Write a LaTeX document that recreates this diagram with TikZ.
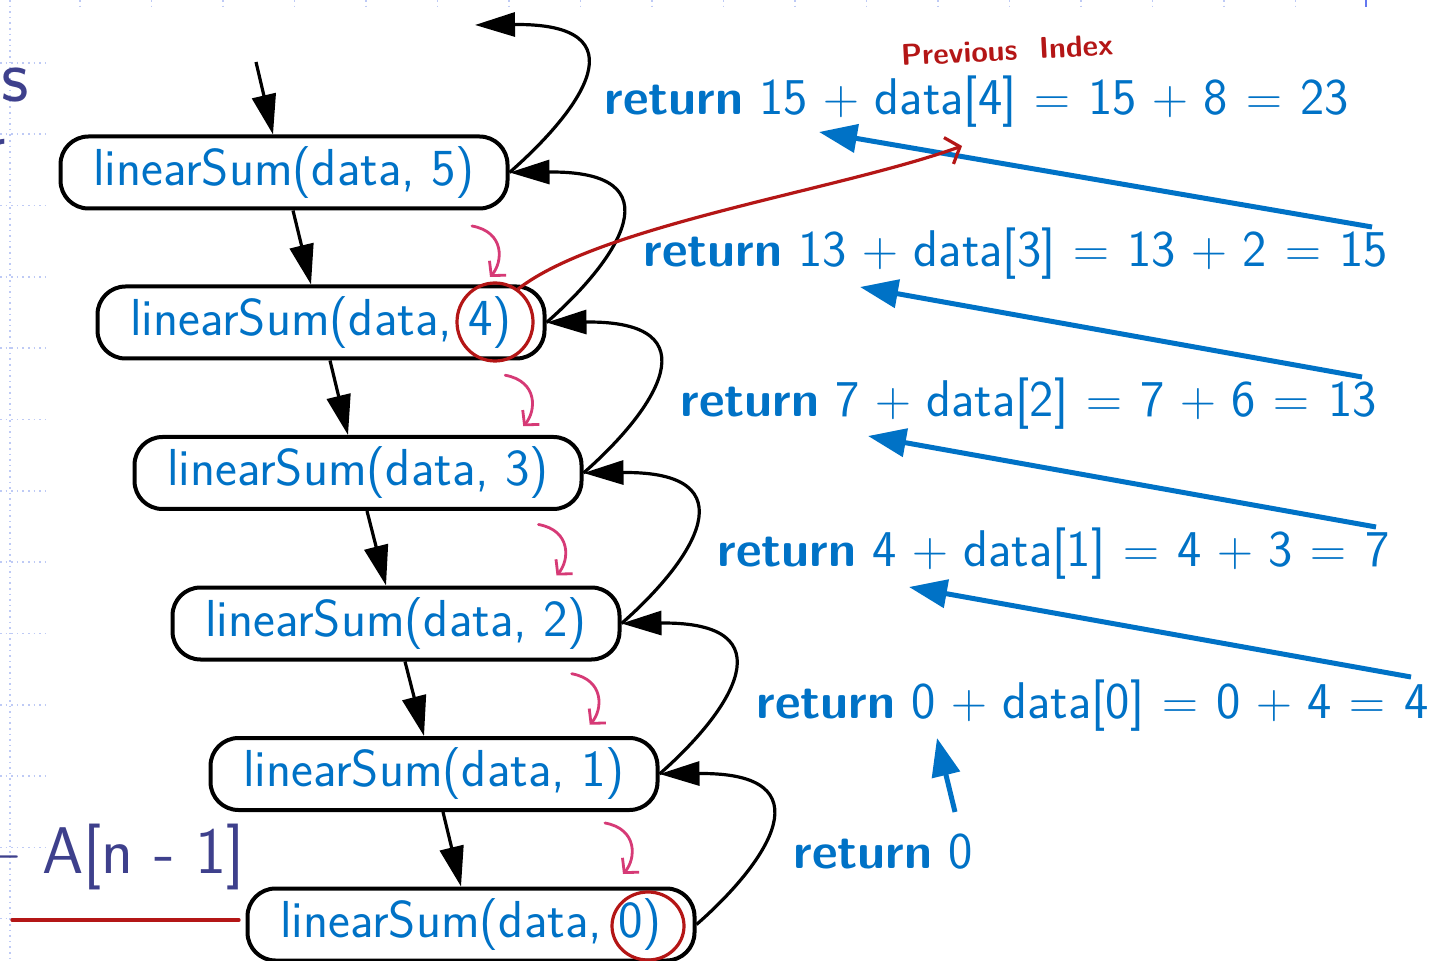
\documentclass[tikz,border=0pt]{standalone}
\usetikzlibrary{arrows.meta,calc,shapes.geometric}
\definecolor{myblue}{RGB}{0,114,198}
\definecolor{myred}{RGB}{180,22,22}
\definecolor{mypink}{RGB}{214,58,118}
\definecolor{slidetext}{RGB}{62,64,140}
\definecolor{gridblue}{RGB}{190,202,245}
\definecolor{tickblue}{RGB}{100,120,240}
\newcommand{\rbold}[1]{{\fontsize{25}{30}\selectfont\bfseries #1}}
\newcommand{\retline}[1]{$\medmuskip=5.6mu\relax\thickmuskip=6.6mu\relax #1$}
\begin{document}
\begin{tikzpicture}[x={(0.5pt,0)},y={(0,-0.5pt)},
  callbox/.style={draw=black,line width=2pt,rounded corners=14pt,minimum width=223.5pt,minimum height=36pt,inner sep=0pt,text=myblue,font=\fontsize{26}{30}\selectfont\sffamily},
  rettext/.style={text=myblue,font=\fontsize{25.8}{30}\selectfont\sffamily,anchor=base west,inner sep=0pt},
  callarr/.style={line width=1.6pt,-{Triangle[length=20pt,width=12pt]}},
  retarr/.style={line width=2.5pt,draw=myblue,-{Triangle[length=19pt,width=14pt]}},
  redmark/.style={draw=myred,line width=1.6pt},
  pinkarr/.style={draw=mypink,line width=1.4pt,line cap=round,-{Straight Barb[length=5pt,width=11pt]}},
  gridline/.style={draw=gridblue,line width=0.8pt,dotted},
  slide/.style={text=slidetext,inner sep=0pt,font=\sffamily}
]
\useasboundingbox (0,0) rectangle (1433,961);
\fill[white] (0,0) rectangle (1433,961);
% slide background pattern
\draw[gridline] (10,0) -- (10,961);
\foreach \k in {0,...,12} \draw[gridline] (0,{63+71.3*\k}) -- (48,{63+71.3*\k});
\foreach \k in {0,...,17} \draw[gridline] ({80+71.5*\k},0) -- ({80+71.5*\k},7);
\draw[tickblue,line width=1pt] (1366,0) -- (1366,7);
% slide text fragments
\node[slide,anchor=base east,font=\fontsize{38}{44}\selectfont\sffamily] (sfrag) at (29,102) {s};
\node[slide,anchor=base east,font=\fontsize{38}{44}\selectfont\sffamily] (tfrag) at (6,173) {r};
\node[slide,anchor=base east,font=\fontsize{33}{38}\selectfont\sffamily] (afrag) at (245,873) {+ A[n - 1]};
% call boxes
\node[callbox] (b5) at (284,172.5) {linearSum(data, 5)};
\node[callbox] (b4) at (321,322.5) {linearSum(data, 4)};
\node[callbox] (b3) at (358,473) {linearSum(data, 3)};
\node[callbox] (b2) at (396,623.5) {linearSum(data, 2)};
\node[callbox] (b1) at (434,774) {linearSum(data, 1)};
\node[callbox] (b0) at (471,924.5) {linearSum(data, 0)};
% call arrows
\coordinate (start) at (256,62);
\coordinate (top) at (475,25);
\draw[callarr] (start) -- ($(b5.north)+(-11,0)$);
\draw[callarr] ($(b5.south)+(9,0)$) -- ($(b4.north)+(-10,0)$);
\draw[callarr] ($(b4.south)+(9,0)$) -- ($(b3.north)+(-10,0)$);
\draw[callarr] ($(b3.south)+(9,0)$) -- ($(b2.north)+(-10,0)$);
\draw[callarr] ($(b2.south)+(9,0)$) -- ($(b1.north)+(-10,0)$);
\draw[callarr] ($(b1.south)+(9,0)$) -- ($(b0.north)+(-10,0)$);
% return arrows (black)
\draw[callarr] (b0.east) .. controls ($(b0.east)+(73,-64)$) and ($(b1.east)+(168,-2)$) .. (b1.east);
\draw[callarr] (b1.east) .. controls ($(b1.east)+(73,-64)$) and ($(b2.east)+(168,-2)$) .. (b2.east);
\draw[callarr] (b2.east) .. controls ($(b2.east)+(73,-64)$) and ($(b3.east)+(168,-2)$) .. (b3.east);
\draw[callarr] (b3.east) .. controls ($(b3.east)+(73,-64)$) and ($(b4.east)+(168,-2)$) .. (b4.east);
\draw[callarr] (b4.east) .. controls ($(b4.east)+(73,-64)$) and ($(b5.east)+(168,-2)$) .. (b5.east);
\draw[callarr] (b5.east) .. controls ($(b5.east)+(73,-64)$) and ($(top)+(168,-2)$) .. (top);
% return texts
\node[rettext] (r4) at (604,115) {\rbold{return} \retline{\hbox{15}+\hbox{data[4]}=\hbox{15}+\hbox{8}=\hbox{23}}};
\node[rettext] (r3) at (643,267) {\rbold{return} \retline{\hbox{13}+\hbox{data[3]}=\hbox{13}+\hbox{2}=\hbox{15}}};
\node[rettext] (r2) at (680,417) {\rbold{return} \retline{\hbox{7}+\hbox{data[2]}=\hbox{7}+\hbox{6}=\hbox{13}}};
\node[rettext] (r1) at (717,567) {\rbold{return} \retline{\hbox{4}+\hbox{data[1]}=\hbox{4}+\hbox{3}=\hbox{7}}};
\node[rettext] (r0) at (756,718) {\rbold{return} \retline{\hbox{0}+\hbox{data[0]}=\hbox{0}+\hbox{4}=\hbox{4}}};
\node[rettext] (rb) at (793,868) {\rbold{return} \retline{\hbox{0}}};
% blue arrows
\coordinate (t4) at (1372,227);  \coordinate (h4) at (819,132);
\coordinate (t3) at (1362,377);  \coordinate (h3) at (860,287);
\coordinate (t2) at (1376,527);  \coordinate (h2) at (868,436);
\coordinate (t1) at (1411,677);  \coordinate (h1) at (909,587);
\coordinate (t0) at (955,812);   \coordinate (h0) at (937,738);
\draw[retarr] (t4) -- (h4);
\draw[retarr] (t3) -- (h3);
\draw[retarr] (t2) -- (h2);
\draw[retarr] (t1) -- (h1);
\draw[retarr] (t0) -- (h0);
% red annotations
\node[redmark,ellipse,minimum width=38pt,minimum height=39pt,inner sep=0pt] (c4) at (495,322) {};
\node[redmark,ellipse,minimum width=36pt,minimum height=34pt,inner sep=0pt] (c0) at (648,926) {};
\coordinate (pi) at (962,146);
\draw[redmark,-{Straight Barb[length=6pt,width=14pt]}] (c4.55) .. controls (600,225) and (840,190) .. (pi);
\node[text=myred,font=\fontsize{15}{18}\selectfont\sffamily\bfseries,rotate=3,inner sep=0pt] (prev) at (1007,50) {Previous\ \ Index};
\draw[redmark,line cap=round] (12,920) -- (239,920);
% pink hand-drawn arrows
\foreach \k in {0,...,4}{
  \pgfmathsetmacro{\sx}{472+33.25*\k}
  \pgfmathsetmacro{\sy}{226+149.25*\k}
  \draw[pinkarr] (\sx,\sy) .. controls ({\sx+33},{\sy+6}) and ({\sx+31},{\sy+36}) .. ({\sx+18},{\sy+51});
}
\end{tikzpicture}
\end{document}
